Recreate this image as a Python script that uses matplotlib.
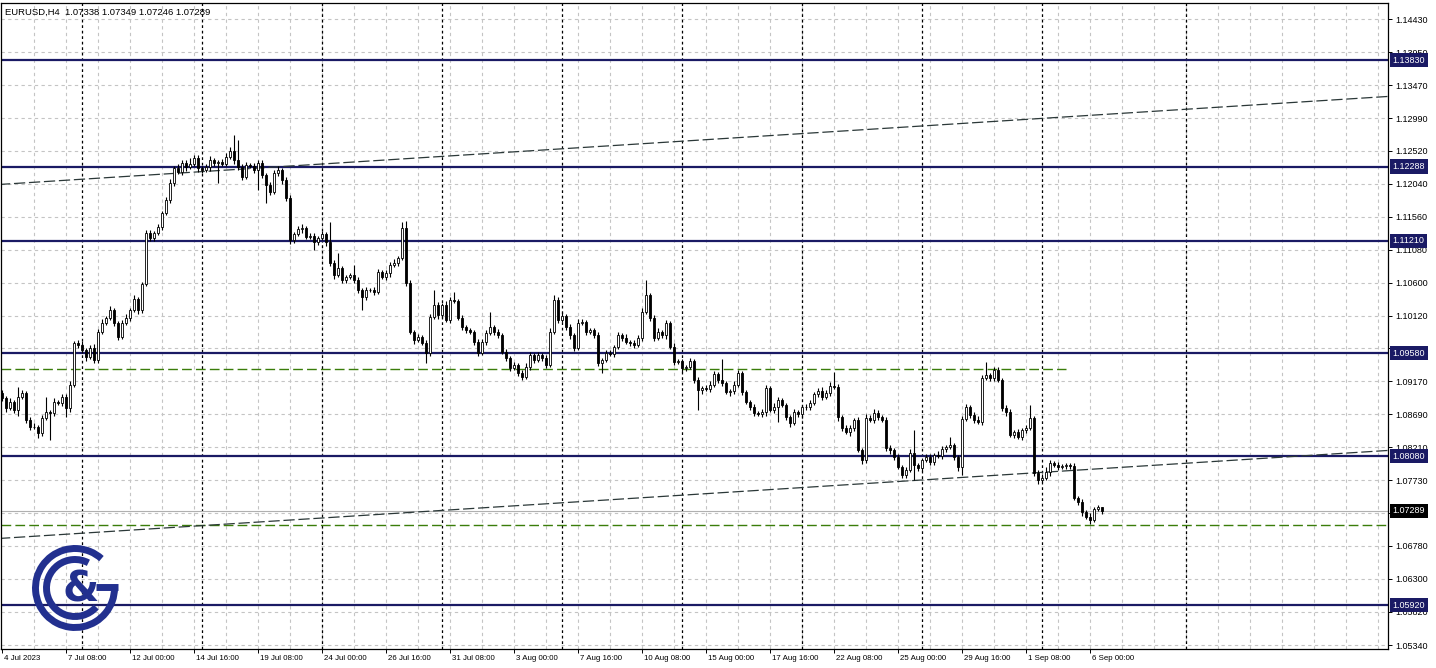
"""EURUSD H4 candlestick chart with support/resistance levels (MT5 style)."""

import matplotlib
matplotlib.use("Agg")
import matplotlib.pyplot as plt
import matplotlib.transforms as mtransforms
from matplotlib.patches import Arc
import numpy as np

plt.rcParams['font.family'] = ['Liberation Sans', 'DejaVu Sans']

# ---------------------------------------------------------------- data
title_text = "EURUSD,H4  1.07338 1.07349 1.07246 1.07289"

first_open = 1.0900
closes = [
    1.0893, 1.0878, 1.0887, 1.0875, 1.0894, 1.0900, 1.0861, 1.0851, 1.0850, 1.0842,
    1.0864, 1.0872, 1.0871, 1.0887, 1.0886, 1.0894, 1.0878, 1.0912, 1.0973, 1.0970,
    1.0962, 1.0952, 1.0965, 1.0948, 1.0989, 1.1002, 1.1009, 1.1020, 1.1002, 1.0981,
    1.1002, 1.1009, 1.1020, 1.1036, 1.1020, 1.1058, 1.1132, 1.1125, 1.1132, 1.1141,
    1.1161, 1.1180, 1.1205, 1.1227, 1.1221, 1.1234, 1.1228, 1.1233, 1.1241, 1.1227,
    1.1224, 1.1228, 1.1238, 1.1234, 1.1235, 1.1233, 1.1243, 1.1251, 1.1238, 1.1228,
    1.1214, 1.1231, 1.1230, 1.1224, 1.1234, 1.1216, 1.1202, 1.1192, 1.1219, 1.1224,
    1.1209, 1.1183, 1.1122, 1.1131, 1.1138, 1.1140, 1.1127, 1.1128, 1.1119, 1.1125,
    1.1131, 1.1119, 1.1089, 1.1071, 1.1082, 1.1064, 1.1068, 1.1071, 1.1064, 1.1050,
    1.1039, 1.1050, 1.1049, 1.1047, 1.1076, 1.1068, 1.1074, 1.1086, 1.1089, 1.1096,
    1.1140, 1.1060, 1.0989, 1.0977, 1.0981, 1.0973, 1.0958, 1.1010, 1.1028, 1.1013,
    1.1028, 1.1006, 1.1035, 1.1034, 1.1009, 1.0996, 1.0991, 1.0989, 1.0974, 1.0958,
    1.0974, 1.0987, 1.0996, 1.0989, 1.0984, 1.0960, 1.0951, 1.0936, 1.0941, 1.0929,
    1.0923, 1.0938, 1.0955, 1.0948, 1.0955, 1.0951, 1.0941, 1.0989, 1.1035, 1.1006,
    1.1012, 1.0996, 1.0984, 1.0965, 1.1002, 1.1003, 1.0989, 1.0991, 1.0984, 1.0944,
    1.0948, 1.0958, 1.0957, 1.0967, 1.0984, 1.0980, 1.0974, 1.0973, 1.0970, 1.0980,
    1.1018, 1.1042, 1.1009, 1.0980, 1.0989, 1.0984, 1.1002, 1.0967, 1.0945, 1.0946,
    1.0936, 1.0938, 1.0946, 1.0919, 1.0904, 1.0907, 1.0906, 1.0912, 1.0928, 1.0919,
    1.0914, 1.0901, 1.0903, 1.0912, 1.0929, 1.0901, 1.0887, 1.0880, 1.0871, 1.0869,
    1.0872, 1.0907, 1.0875, 1.0880, 1.0890, 1.0882, 1.0865, 1.0856, 1.0872, 1.0869,
    1.0880, 1.0879, 1.0885, 1.0899, 1.0903, 1.0894, 1.0900, 1.0910, 1.0909, 1.0865,
    1.0849, 1.0843, 1.0849, 1.0861, 1.0817, 1.0803, 1.0864, 1.0861, 1.0871, 1.0865,
    1.0861, 1.0820, 1.0817, 1.0807, 1.0792, 1.0781, 1.0788, 1.0813, 1.0795, 1.0791,
    1.0803, 1.0807, 1.0800, 1.0810, 1.0808, 1.0819, 1.0822, 1.0824, 1.0807, 1.0792,
    1.0862, 1.0880, 1.0868, 1.0861, 1.0858, 1.0922, 1.0926, 1.0922, 1.0933, 1.0919,
    1.0878, 1.0872, 1.0839, 1.0843, 1.0836, 1.0846, 1.0849, 1.0864, 1.0784, 1.0774,
    1.0777, 1.0785, 1.0798, 1.0795, 1.0792, 1.0794, 1.0795, 1.0794, 1.0748, 1.0742,
    1.0727, 1.0720, 1.0716, 1.0731, 1.07338, 1.07289,
]
# wick lengths above / below the body, in pips
upper_wick_pips = [
    4, 3, 5, 3, 14, 4, 3, 4, 5, 3,
    4, 22, 3, 5, 3, 4, 4, 5, 3, 4,
    5, 3, 4, 6, 4, 5, 3, 6, 4, 3,
    4, 5, 3, 6, 4, 3, 4, 5, 3, 4,
    3, 4, 5, 3, 6, 5, 4, 8, 4, 5,
    3, 4, 6, 3, 4, 5, 5, 6, 24, 30,
    4, 5, 3, 4, 4, 5, 3, 4, 5, 6,
    3, 4, 5, 3, 4, 6, 3, 4, 5, 3,
    4, 3, 29, 4, 21, 3, 4, 3, 15, 4,
    3, 4, 3, 5, 4, 3, 5, 4, 6, 3,
    8, 10, 4, 3, 4, 3, 4, 5, 22, 4,
    3, 5, 4, 12, 3, 4, 3, 4, 3, 4,
    5, 4, 22, 3, 4, 3, 4, 3, 4, 3,
    4, 5, 4, 3, 5, 3, 4, 5, 7, 4,
    6, 3, 4, 3, 5, 4, 3, 4, 3, 4,
    3, 4, 5, 3, 4, 3, 5, 3, 4, 4,
    5, 22, 3, 4, 5, 3, 4, 3, 5, 3,
    4, 3, 5, 3, 4, 3, 4, 5, 4, 3,
    31, 4, 3, 5, 4, 3, 4, 3, 4, 3,
    5, 4, 3, 5, 4, 3, 4, 3, 5, 4,
    3, 4, 5, 3, 4, 5, 4, 6, 20, 4,
    3, 4, 5, 3, 4, 3, 5, 4, 6, 4,
    3, 4, 5, 3, 4, 3, 4, 5, 33, 4,
    3, 5, 4, 3, 6, 4, 3, 12, 4, 3,
    5, 4, 3, 4, 5, 4, 19, 3, 4, 5,
    3, 4, 5, 3, 4, 3, 5, 18, 3, 4,
    5, 8, 4, 3, 5, 3, 4, 3, 5, 3,
    4, 3, 5, 4, 3, 1,
]
lower_wick_pips = [
    4, 5, 3, 4, 9, 3, 4, 5, 3, 7,
    4, 3, 39, 4, 3, 5, 13, 5, 3, 4,
    4, 5, 3, 5, 4, 3, 4, 3, 5, 4,
    3, 4, 5, 3, 6, 4, 3, 4, 5, 3,
    4, 3, 4, 5, 3, 4, 5, 3, 4, 6,
    4, 3, 5, 4, 29, 3, 4, 3, 5, 4,
    5, 4, 3, 5, 29, 4, 26, 5, 3, 4,
    5, 4, 6, 4, 3, 5, 4, 3, 11, 4,
    3, 5, 4, 6, 3, 4, 5, 3, 4, 5,
    19, 4, 3, 5, 4, 3, 4, 5, 3, 4,
    3, 5, 4, 6, 3, 4, 14, 4, 3, 5,
    4, 3, 5, 4, 3, 5, 4, 3, 5, 4,
    3, 4, 3, 5, 4, 3, 5, 4, 3, 5,
    4, 3, 5, 4, 3, 4, 5, 3, 4, 5,
    3, 4, 5, 4, 3, 4, 5, 3, 4, 5,
    15, 3, 4, 5, 3, 4, 3, 5, 4, 3,
    4, 3, 5, 4, 3, 4, 5, 3, 4, 3,
    5, 4, 3, 4, 28, 5, 3, 4, 3, 5,
    4, 3, 5, 4, 3, 4, 3, 5, 4, 3,
    4, 5, 3, 4, 22, 3, 4, 5, 3, 4,
    5, 3, 4, 3, 5, 4, 3, 4, 3, 5,
    4, 3, 5, 4, 3, 6, 4, 3, 5, 4,
    3, 4, 5, 4, 3, 5, 4, 3, 22, 4,
    5, 3, 4, 5, 3, 4, 5, 3, 4, 5,
    11, 3, 4, 5, 3, 4, 3, 5, 4, 3,
    4, 5, 3, 4, 3, 5, 4, 3, 4, 6,
    3, 4, 5, 3, 4, 3, 5, 4, 3, 4,
    5, 3, 6, 4, 3, 4,
]

price_ticks = [1.14430, 1.13950, 1.13470, 1.12990, 1.12520, 1.12040, 1.11560,
               1.11080, 1.10600, 1.10120, 1.09650, 1.09170, 1.08690, 1.08210,
               1.07730, 1.07250, 1.06780, 1.06300, 1.05820, 1.05340]
hidden_tick = 1.07250   # sits fully under the current-price tag
time_labels = ["4 Jul 2023", "7 Jul 08:00", "12 Jul 00:00", "14 Jul 16:00",
               "19 Jul 08:00", "24 Jul 00:00", "26 Jul 16:00", "31 Jul 08:00",
               "3 Aug 00:00", "7 Aug 16:00", "10 Aug 08:00", "15 Aug 00:00",
               "17 Aug 16:00", "22 Aug 08:00", "25 Aug 00:00", "29 Aug 16:00",
               "1 Sep 08:00", "6 Sep 00:00"]
week_starts = [20, 50, 80, 110, 140, 170, 200, 230, 260, 296]

levels = [1.13830, 1.12288, 1.11210, 1.09580, 1.08080, 1.05920]
green_levels = [1.0935, 1.0708]
green_ends = [266, None]          # bar index where the dashed level stops
channel_upper = [(0, 1.1203), (345, 1.1330)]
channel_lower = [(0, 1.0689), (345, 1.0816)]
last_price = 1.07289

# ---------------------------------------------------------------- style
NAVY = '#1a1a64'
LOGO = '#22308f'
GRID = '#c4c4c4'
GREEN = '#3a7d0a'
label_step = 16   # bars between time labels
grid_step = 8     # bars between vertical grid lines
xmin, xmax = -0.25, 346.5
ymin, ymax = 1.052825, 1.146624

W, H = 1436, 668
fig = plt.figure(figsize=(W / 100, H / 100), dpi=100)
ax = fig.add_axes([1 / W, (H - 649) / H, 1387 / W, 646 / H])
ax.set_xlim(xmin, xmax)
ax.set_ylim(ymin, ymax)

# grid
for p in price_ticks:
    ax.axhline(p, color=GRID, lw=0.8, ls=(0, (3, 3)), zorder=1)
for gx in np.arange(grid_step, xmax, grid_step):
    ax.axvline(gx, color=GRID, lw=0.8, ls=(0, (3, 3)), zorder=1)
for wx in week_starts:
    ax.axvline(wx, color='black', lw=0.9, ls=(0, (2.2, 2.2)), zorder=1.5)

# horizontal levels
for lv in levels:
    ax.axhline(lv, color=NAVY, lw=1.6, zorder=2)
for gl, ge in zip(green_levels, green_ends):
    right = xmax if ge is None else ge
    ax.plot([xmin, right], [gl, gl], color=GREEN, lw=1.0, ls=(0, (7, 3)), zorder=2)
ax.axhline(last_price, color='#b0b0b0', lw=0.8, zorder=2)

# channel lines
for line in (channel_upper, channel_lower):
    (x0, p0), (x1, p1) = line
    slope = (p1 - p0) / (x1 - x0)
    xs = np.array([xmin - 2, xmax + 2])
    ax.plot(xs, p0 + slope * (xs - x0), color='#2b3838', lw=0.9,
            ls=(0, (9, 3)), zorder=2.2)

# candles
c = np.array(closes)
o = np.array([first_open] + closes[:-1])
hi = np.maximum(o, c) + np.array(upper_wick_pips) * 0.0001
lo = np.minimum(o, c) - np.array(lower_wick_pips) * 0.0001
bx = np.arange(len(c))
bull = c >= o
ax.vlines(bx, lo, hi, color='black', lw=0.8, zorder=4)
ax.bar(bx, np.abs(c - o), bottom=np.minimum(o, c), width=0.6,
       color=np.where(bull, 'white', 'black'), edgecolor='black',
       linewidth=0.6, zorder=5)

# axes, ticks
for sp in ax.spines.values():
    sp.set_color('black')
    sp.set_linewidth(0.9)
ax.yaxis.tick_right()
ax.set_yticks(price_ticks)
ax.set_yticklabels(["" if p == hidden_tick else f"{p:.5f}" for p in price_ticks])
ax.tick_params(axis='y', length=3, width=0.7, pad=2, labelsize=6.5)
ax.set_xticks(np.arange(len(time_labels)) * label_step)
ax.set_xticklabels(time_labels)
ax.tick_params(axis='x', length=3, width=0.7, pad=1, labelsize=5.7)
shift = mtransforms.ScaledTranslation(1.5 / 72, 0, fig.dpi_scale_trans)
for lbl in ax.get_xticklabels():
    lbl.set_ha('left')
    lbl.set_transform(lbl.get_transform() + shift)

# price tags on the right scale
trans = mtransforms.blended_transform_factory(ax.transAxes, ax.transData)
for lv in levels:
    ax.annotate(f"{lv:.5f}", xy=(1, lv), xycoords=trans, xytext=(3.3, 0),
                textcoords='offset points', ha='left', va='center',
                color='white', fontsize=6.5, annotation_clip=False,
                bbox=dict(boxstyle='square,pad=0.28', fc=NAVY, ec='none'))
ax.annotate(f"{last_price:.5f}", xy=(1, last_price), xycoords=trans,
            xytext=(3.3, 0), textcoords='offset points', ha='left',
            va='center', color='white', fontsize=6.5, annotation_clip=False,
            bbox=dict(boxstyle='square,pad=0.28', fc='black', ec='none'))

fig.text(5 / W, 1 - 12 / H, title_text, fontsize=6.8, ha='left', va='center')

# C&G logo
lax = fig.add_axes([28 / W, (H - 634) / H, 94 / W, 94 / H])
lax.set_xlim(0, 94)
lax.set_ylim(0, 94)
lax.axis('off')
lax.add_patch(Arc((47, 46), 79, 79, theta1=48, theta2=360, lw=5, color=LOGO))
lax.plot([68, 90.5], [47, 47], color=LOGO, lw=5, solid_capstyle='butt')
lax.add_patch(Arc((47, 46), 57, 57, theta1=62, theta2=318, lw=5, color=LOGO))
lax.text(53, 44, "&", fontsize=30, fontweight='bold', color=LOGO,
         ha='center', va='center', family='DejaVu Sans')

fig.savefig("out.png", dpi=100)
